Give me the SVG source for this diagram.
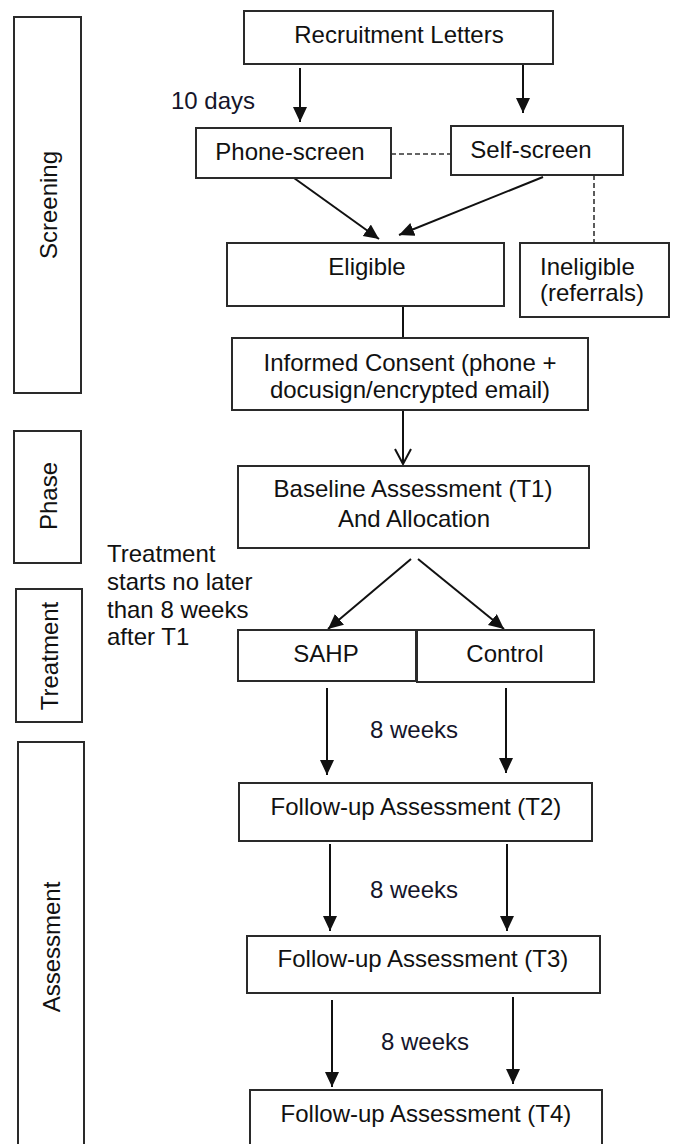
<svg xmlns="http://www.w3.org/2000/svg" width="675" height="1144" viewBox="0 0 675 1144">
<style>
  .box { fill: #ffffff; stroke: #2a2a2a; stroke-width: 2; }
  .t { font-family: "Liberation Sans", Arial, sans-serif; font-size: 24px; fill: #111111; }
  .c { text-anchor: middle; }
  .note { fill: #15152a; }
  .arr { stroke: #111111; stroke-width: 2; fill: none; marker-end: url(#ah); }
  .open { stroke: #111111; stroke-width: 2; fill: none; marker-end: url(#oh); }
  .ln { stroke: #111111; stroke-width: 2; fill: none; }
  .dash { stroke: #333333; stroke-width: 1.6; fill: none; stroke-dasharray: 5 3; }
</style>
<defs>
  <marker id="ah" markerUnits="userSpaceOnUse" markerWidth="16" markerHeight="16" viewBox="0 0 16 16" refX="15" refY="7" orient="auto">
    <path d="M0,0 L15,7 L0,14 z" fill="#111111"/>
  </marker>
  <marker id="oh" markerUnits="userSpaceOnUse" markerWidth="18" markerHeight="20" viewBox="0 0 18 20" refX="16" refY="9" orient="auto">
    <path d="M1,1 L16,9 L1,17" fill="none" stroke="#111111" stroke-width="2"/>
  </marker>
</defs>
<rect width="675" height="1144" fill="#ffffff"/>

<g id="phase-screening">
  <rect class="box" x="14" y="17" width="67" height="376"/>
  <text class="t c" transform="translate(57,205) rotate(-90)">Screening</text>
</g>
<g id="phase-phase">
  <rect class="box" x="14" y="431" width="67" height="132"/>
  <text class="t c" transform="translate(57,496) rotate(-90)">Phase</text>
</g>
<g id="phase-treatment">
  <rect class="box" x="16" y="589" width="66" height="133"/>
  <text class="t c" transform="translate(58,656) rotate(-90)">Treatment</text>
</g>
<g id="phase-assessment">
  <rect class="box" x="18" y="742" width="66" height="420"/>
  <text class="t c" transform="translate(60,947) rotate(-90)">Assessment</text>
</g>

<g id="connectors">
  <line class="arr" x1="300" y1="68" x2="300" y2="122"/>
  <line class="arr" x1="523" y1="64" x2="523" y2="113"/>
  <line class="dash" x1="391" y1="154" x2="451" y2="154"/>
  <line class="dash" x1="594" y1="175" x2="594" y2="243"/>
  <line class="arr" x1="294" y1="178" x2="379" y2="239"/>
  <line class="arr" x1="543" y1="177" x2="399" y2="235"/>
  <line class="ln" x1="403" y1="306" x2="403" y2="338"/>
  <line class="open" x1="403" y1="410" x2="403" y2="464"/>
  <line class="arr" x1="411" y1="559" x2="328" y2="629"/>
  <line class="arr" x1="418" y1="559" x2="504" y2="629"/>
  <line class="arr" x1="327" y1="688" x2="327" y2="775"/>
  <line class="arr" x1="506" y1="688" x2="506" y2="773"/>
  <line class="arr" x1="330" y1="844" x2="330" y2="931"/>
  <line class="arr" x1="507" y1="844" x2="507" y2="931"/>
  <line class="arr" x1="332" y1="1000" x2="332" y2="1087"/>
  <line class="arr" x1="513" y1="997" x2="513" y2="1084"/>
</g>

<g id="label-10days"><text class="t note" x="171" y="109">10 days</text></g>
<g id="label-treatment-start">
  <text class="t" x="107" y="562">Treatment</text>
  <text class="t" x="107" y="590">starts no later</text>
  <text class="t" x="107" y="618">than 8 weeks</text>
  <text class="t" x="107" y="645">after T1</text>
</g>
<g id="label-8w-1"><text class="t c note" x="414" y="738">8 weeks</text></g>
<g id="label-8w-2"><text class="t c note" x="414" y="898">8 weeks</text></g>
<g id="label-8w-3"><text class="t c note" x="425" y="1050">8 weeks</text></g>

<g id="recruitment">
  <rect class="box" x="244" y="11" width="309" height="53"/>
  <text class="t c" x="399" y="43">Recruitment Letters</text>
</g>
<g id="phone-screen">
  <rect class="box" x="196" y="128" width="195" height="50"/>
  <text class="t c" x="290" y="160">Phone-screen</text>
</g>
<g id="self-screen">
  <rect class="box" x="451" y="126" width="172" height="49"/>
  <text class="t c" x="531" y="158">Self-screen</text>
</g>
<g id="eligible">
  <rect class="box" x="227" y="243" width="277" height="63"/>
  <text class="t c" x="367" y="275">Eligible</text>
</g>
<g id="ineligible">
  <rect class="box" x="520" y="243" width="149" height="74"/>
  <text class="t" x="540" y="275">Ineligible</text>
  <text class="t" x="540" y="301">(referrals)</text>
</g>
<g id="consent">
  <rect class="box" x="232" y="338" width="356" height="72"/>
  <text class="t c" x="410" y="371">Informed Consent (phone +</text>
  <text class="t c" x="410" y="398">docusign/encrypted email)</text>
</g>
<g id="baseline">
  <rect class="box" x="238" y="466" width="351" height="82"/>
  <text class="t c" x="413" y="497">Baseline Assessment (T1)</text>
  <text class="t c" x="414" y="527">And Allocation</text>
</g>
<g id="sahp">
  <rect class="box" x="238" y="630" width="178" height="51"/>
  <text class="t c" x="326" y="662">SAHP</text>
</g>
<g id="control">
  <rect class="box" x="417" y="630" width="177" height="52"/>
  <text class="t c" x="505" y="662">Control</text>
</g>
<g id="t2">
  <rect class="box" x="239" y="783" width="353" height="58"/>
  <text class="t c" x="416" y="815">Follow-up Assessment (T2)</text>
</g>
<g id="t3">
  <rect class="box" x="247" y="936" width="353" height="57"/>
  <text class="t c" x="423" y="967">Follow-up Assessment (T3)</text>
</g>
<g id="t4">
  <rect class="box" x="250" y="1090" width="352" height="80"/>
  <text class="t c" x="426" y="1122">Follow-up Assessment (T4)</text>
</g>
</svg>
